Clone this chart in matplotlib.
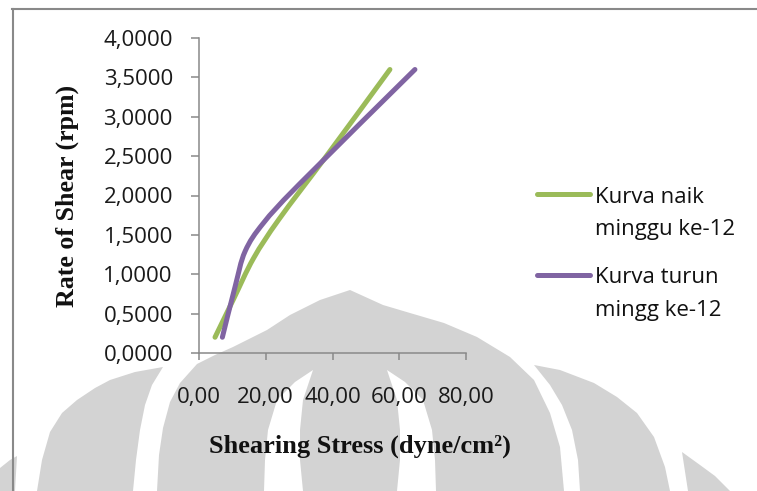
import numpy as np
import matplotlib
matplotlib.use("Agg")
import matplotlib.pyplot as plt
from matplotlib.path import Path
from matplotlib.patches import PathPatch, Polygon
from matplotlib.lines import Line2D
from matplotlib.ticker import FuncFormatter, MultipleLocator

# ---- data -------------------------------------------------------------
naik_stress = [4.8, 10.3, 16.3, 24.0, 38.5, 57.2]
naik_rate = [0.20, 0.68, 1.20, 1.70, 2.52, 3.60]

turun_stress = [7.0, 10.8, 13.8, 19.3, 30.2, 64.7]
turun_rate = [0.20, 0.84, 1.29, 1.65, 2.15, 3.60]

series_labels = ["Kurva naik\nminggu ke-12", "Kurva turun\nmingg ke-12"]
x_label = "Shearing Stress (dyne/cm\u00b2)"
y_label = "Rate of Shear (rpm)"

GREEN = "#9BBB59"
PURPLE = "#8064A2"
GRID_GREY = "#898989"
MARK_GREY = "#d3d3d3"

W, H, DPI = 757, 491, 100
fig = plt.figure(figsize=(W / DPI, H / DPI), dpi=DPI)
fig.patch.set_facecolor("white")


def fx(px):
    return px / W


def fy(py):
    return 1 - py / H


def fig_poly(points, **kw):
    return Polygon([(fx(x), fy(y)) for x, y in points], closed=True,
                   transform=fig.transFigure, **kw)


# ---- background emblem -------------------------------------------------
dome = [(157, 491), (159, 455), (163, 428), (170, 402), (180, 383), (197, 364),
        (215, 355), (233, 347), (267, 330), (290, 315), (320, 300), (350, 290),
        (383, 305), (410, 313), (444, 323), (477, 337), (510, 357), (534, 380),
        (550, 413), (560, 447), (564, 491)]
left_gap = [(313, 370), (295, 382), (277, 400), (268, 430), (265, 460), (264, 491),
            (303, 491), (300, 460), (300, 430), (303, 400)]
right_gap = [(700 - x, y) for x, y in left_gap]
left_wing = [(37, 491), (42, 460), (50, 432), (62, 413), (77, 400), (95, 388),
             (110, 380), (135, 372), (163, 367), (152, 385), (145, 405),
             (140, 430), (136, 460), (133, 491)]
right_wing = [(534, 365), (560, 370), (594, 383), (617, 397), (637, 413),
              (654, 437), (665, 467), (670, 491), (580, 491), (578, 460),
              (572, 430), (562, 405), (550, 385)]
corner_r = [(682, 452), (700, 465), (715, 476), (730, 491), (688, 491)]
corner_l = [(0, 468), (10, 460), (17, 456), (15, 491), (0, 491)]

for shape in (dome, left_wing, right_wing, corner_r, corner_l):
    fig.patches.append(fig_poly(shape, facecolor=MARK_GREY, edgecolor="none", zorder=-3))
for shape in (left_gap, right_gap):
    fig.patches.append(fig_poly(shape, facecolor="white", edgecolor="none", zorder=-2))

# ---- chart frame ---------------------------------------------------------
fig.add_artist(Line2D([fx(13), fx(13)], [fy(9), fy(H + 5)], transform=fig.transFigure,
                      color=GRID_GREY, lw=1.5, zorder=1))
fig.add_artist(Line2D([fx(12), fx(W + 5)], [fy(9), fy(9)], transform=fig.transFigure,
                      color=GRID_GREY, lw=1.5, zorder=1))

# ---- plot area -----------------------------------------------------------
x0, x1, y0, y1 = 199, 466, 353, 38
ax = fig.add_axes([fx(x0), fy(y0), fx(x1) - fx(x0), fy(y1) - fy(y0)])
ax.set_facecolor("none")
ax.set_xlim(0, 80)
ax.set_ylim(0, 4)
for side in ("top", "right"):
    ax.spines[side].set_visible(False)
for side in ("left", "bottom"):
    ax.spines[side].set_color(GRID_GREY)
    ax.spines[side].set_linewidth(1.1)

ax.xaxis.set_major_locator(MultipleLocator(20))
ax.yaxis.set_major_locator(MultipleLocator(0.5))
ax.xaxis.set_major_formatter(FuncFormatter(lambda v, p: f"{v:.2f}".replace(".", ",")))
ax.yaxis.set_major_formatter(FuncFormatter(lambda v, p: f"{v:.4f}".replace(".", ",")))
ax.tick_params(axis="y", direction="out", length=5.8, width=1.1, color=GRID_GREY,
               pad=13, labelsize=16, labelcolor="#1a1a1a")
ax.tick_params(axis="x", direction="out", length=5.0, width=1.1, color=GRID_GREY,
               pad=19.5, labelsize=16, labelcolor="#1a1a1a")
for lab in ax.get_xticklabels() + ax.get_yticklabels():
    lab.set_fontfamily("Open Sans")


def smooth_curve(xs, ys):
    """Cubic Bezier path through the points (Catmull-Rom style smoothing)."""
    pts = np.column_stack([xs, ys]).astype(float)
    verts = [pts[0]]
    codes = [Path.MOVETO]
    n = len(pts)
    for i in range(n - 1):
        p0 = pts[i - 1] if i > 0 else pts[i]
        p1, p2 = pts[i], pts[i + 1]
        p3 = pts[i + 2] if i + 2 < n else pts[i + 1]
        verts += [p1 + (p2 - p0) / 6, p2 - (p3 - p1) / 6, p2]
        codes += [Path.CURVE4] * 3
    return Path(verts, codes)


for xs, ys, col in ((naik_stress, naik_rate, GREEN), (turun_stress, turun_rate, PURPLE)):
    ax.add_patch(PathPatch(smooth_curve(xs, ys), fill=False, edgecolor=col, lw=3.6,
                           capstyle="round", joinstyle="round", clip_on=False))

# ---- axis titles ---------------------------------------------------------
fig.text(fx(360), fy(446), x_label, ha="center", va="center", fontsize=19,
         fontweight="bold", family="Liberation Serif", color="#111111")
fig.text(fx(67), fy(196), y_label, ha="center", va="center", rotation=90, fontsize=18.6,
         fontweight="bold", family="Liberation Serif", color="#111111")

# ---- legend --------------------------------------------------------------
legend_rows = [(GREEN, 194, (202.7, 235)), (PURPLE, 275, (283.3, 316))]
for (col, ly, baselines), text in zip(legend_rows, series_labels):
    fig.add_artist(Line2D([fx(537), fx(590)], [fy(ly), fy(ly)], transform=fig.transFigure,
                          color=col, lw=3.6, solid_capstyle="round"))
    for line, base in zip(text.split("\n"), baselines):
        fig.text(fx(595), fy(base), line, ha="left", va="baseline", fontsize=16,
                 family="Open Sans", color="#111111")

fig.savefig("out.png", dpi=DPI)
